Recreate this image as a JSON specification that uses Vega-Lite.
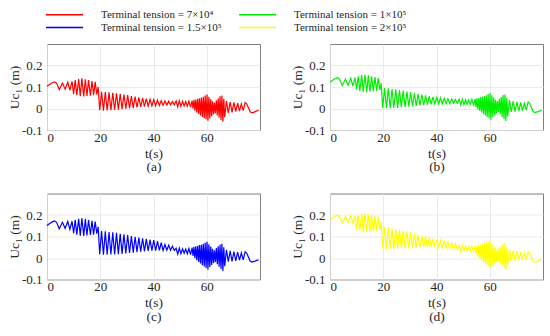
{
"$schema": "https://vega.github.io/schema/vega-lite/v6.json",
"padding": {"left": 6, "top": 9, "right": 5, "bottom": 2},
"datasets": {
"a": [{"t":0.0,"u":0.103},{"t":1.0,"u":0.112},{"t":2.0,"u":0.120},{"t":2.8,"u":0.124},{"t":3.6,"u":0.118},{"t":4.6,"u":0.088},{"t":5.8,"u":0.118},{"t":6.8,"u":0.090},{"t":7.8,"u":0.122},{"t":8.6,"u":0.085},{"t":9.4,"u":0.126},{"t":10.0,"u":0.068},{"t":10.6,"u":0.132},{"t":11.2,"u":0.062},{"t":11.9,"u":0.137},{"t":12.5,"u":0.057},{"t":13.1,"u":0.140},{"t":13.8,"u":0.056},{"t":14.4,"u":0.136},{"t":15.0,"u":0.058},{"t":15.6,"u":0.132},{"t":16.3,"u":0.060},{"t":16.9,"u":0.128},{"t":17.5,"u":0.062},{"t":18.1,"u":0.124},{"t":18.7,"u":0.066},{"t":19.2,"u":0.100},{"t":19.8,"u":-0.008},{"t":20.5,"u":0.078},{"t":21.2,"u":-0.010},{"t":21.9,"u":0.077},{"t":22.6,"u":-0.009},{"t":23.3,"u":0.075},{"t":24.0,"u":-0.008},{"t":24.7,"u":0.073},{"t":25.4,"u":-0.007},{"t":26.1,"u":0.071},{"t":26.8,"u":-0.005},{"t":27.5,"u":0.068},{"t":28.2,"u":-0.003},{"t":28.9,"u":0.065},{"t":29.6,"u":-0.001},{"t":30.3,"u":0.062},{"t":31.0,"u":0.001},{"t":31.7,"u":0.058},{"t":32.4,"u":0.003},{"t":33.1,"u":0.055},{"t":33.8,"u":0.005},{"t":34.5,"u":0.052},{"t":35.2,"u":0.007},{"t":35.9,"u":0.049},{"t":36.6,"u":0.009},{"t":37.3,"u":0.046},{"t":38.0,"u":0.011},{"t":38.7,"u":0.043},{"t":39.4,"u":0.012},{"t":40.1,"u":0.041},{"t":40.8,"u":0.013},{"t":41.5,"u":0.039},{"t":42.2,"u":0.014},{"t":42.9,"u":0.037},{"t":43.6,"u":0.015},{"t":44.3,"u":0.035},{"t":45.0,"u":0.016},{"t":45.7,"u":0.034},{"t":46.4,"u":0.017},{"t":47.1,"u":0.033},{"t":47.8,"u":0.017},{"t":48.5,"u":0.035},{"t":49.1,"u":0.008},{"t":49.7,"u":0.036},{"t":50.3,"u":0.010},{"t":50.9,"u":0.033},{"t":51.5,"u":0.012},{"t":52.1,"u":0.032},{"t":52.7,"u":0.010},{"t":53.3,"u":0.034},{"t":53.9,"u":0.006},{"t":54.5,"u":0.036},{"t":54.85,"u":0.000},{"t":55.2,"u":0.040},{"t":55.55,"u":-0.010},{"t":55.9,"u":0.042},{"t":56.25,"u":-0.018},{"t":56.6,"u":0.045},{"t":56.95,"u":-0.025},{"t":57.3,"u":0.048},{"t":57.65,"u":-0.032},{"t":58.0,"u":0.051},{"t":58.35,"u":-0.039},{"t":58.7,"u":0.055},{"t":59.05,"u":-0.045},{"t":59.4,"u":0.060},{"t":59.75,"u":-0.050},{"t":60.1,"u":0.065},{"t":60.45,"u":-0.057},{"t":60.8,"u":0.054},{"t":61.15,"u":-0.046},{"t":61.5,"u":0.044},{"t":61.85,"u":-0.036},{"t":62.2,"u":0.034},{"t":62.55,"u":-0.026},{"t":62.9,"u":0.028},{"t":63.25,"u":-0.022},{"t":63.6,"u":0.038},{"t":63.95,"u":-0.032},{"t":64.3,"u":0.047},{"t":64.65,"u":-0.043},{"t":65.0,"u":0.057},{"t":65.35,"u":-0.053},{"t":65.7,"u":0.060},{"t":66.05,"u":-0.062},{"t":66.4,"u":0.045},{"t":66.75,"u":-0.040},{"t":67.4,"u":0.035},{"t":68.1,"u":-0.020},{"t":68.8,"u":0.030},{"t":69.5,"u":-0.018},{"t":70.2,"u":0.028},{"t":70.9,"u":-0.015},{"t":71.6,"u":0.025},{"t":72.3,"u":-0.012},{"t":73.0,"u":0.022},{"t":73.7,"u":-0.010},{"t":74.4,"u":0.028},{"t":75.0,"u":0.022},{"t":75.6,"u":0.005},{"t":76.3,"u":-0.015},{"t":77.0,"u":-0.020},{"t":77.8,"u":-0.017},{"t":78.6,"u":-0.012},{"t":79.5,"u":-0.008}],
"b": [{"t":0.0,"u":0.122},{"t":1.0,"u":0.131},{"t":2.0,"u":0.139},{"t":2.8,"u":0.143},{"t":3.6,"u":0.137},{"t":4.6,"u":0.107},{"t":5.8,"u":0.137},{"t":6.8,"u":0.109},{"t":7.8,"u":0.141},{"t":8.6,"u":0.104},{"t":9.4,"u":0.144},{"t":10.0,"u":0.088},{"t":10.6,"u":0.150},{"t":11.2,"u":0.082},{"t":11.9,"u":0.155},{"t":12.5,"u":0.077},{"t":13.1,"u":0.158},{"t":13.8,"u":0.076},{"t":14.4,"u":0.154},{"t":15.0,"u":0.078},{"t":15.6,"u":0.150},{"t":16.3,"u":0.080},{"t":16.9,"u":0.146},{"t":17.5,"u":0.082},{"t":18.1,"u":0.142},{"t":18.7,"u":0.086},{"t":19.2,"u":0.118},{"t":19.8,"u":0.003},{"t":20.5,"u":0.095},{"t":21.2,"u":0.001},{"t":21.9,"u":0.094},{"t":22.6,"u":0.002},{"t":23.3,"u":0.091},{"t":24.0,"u":0.003},{"t":24.7,"u":0.089},{"t":25.4,"u":0.003},{"t":26.1,"u":0.086},{"t":26.8,"u":0.005},{"t":27.5,"u":0.083},{"t":28.2,"u":0.007},{"t":28.9,"u":0.079},{"t":29.6,"u":0.009},{"t":30.3,"u":0.076},{"t":31.0,"u":0.010},{"t":31.7,"u":0.072},{"t":32.4,"u":0.012},{"t":33.1,"u":0.068},{"t":33.8,"u":0.014},{"t":34.5,"u":0.065},{"t":35.2,"u":0.016},{"t":35.9,"u":0.061},{"t":36.6,"u":0.017},{"t":37.3,"u":0.058},{"t":38.0,"u":0.019},{"t":38.7,"u":0.054},{"t":39.4,"u":0.020},{"t":40.1,"u":0.052},{"t":40.8,"u":0.021},{"t":41.5,"u":0.050},{"t":42.2,"u":0.022},{"t":42.9,"u":0.047},{"t":43.6,"u":0.022},{"t":44.3,"u":0.045},{"t":45.0,"u":0.023},{"t":45.7,"u":0.044},{"t":46.4,"u":0.024},{"t":47.1,"u":0.042},{"t":47.8,"u":0.024},{"t":48.5,"u":0.043},{"t":49.1,"u":0.016},{"t":49.7,"u":0.044},{"t":50.3,"u":0.018},{"t":50.9,"u":0.041},{"t":51.5,"u":0.020},{"t":52.1,"u":0.040},{"t":52.7,"u":0.018},{"t":53.3,"u":0.042},{"t":53.9,"u":0.014},{"t":54.5,"u":0.044},{"t":54.85,"u":0.006},{"t":55.2,"u":0.048},{"t":55.55,"u":-0.004},{"t":55.9,"u":0.050},{"t":56.25,"u":-0.012},{"t":56.6,"u":0.053},{"t":56.95,"u":-0.019},{"t":57.3,"u":0.055},{"t":57.65,"u":-0.026},{"t":58.0,"u":0.058},{"t":58.35,"u":-0.033},{"t":58.7,"u":0.062},{"t":59.05,"u":-0.040},{"t":59.4,"u":0.067},{"t":59.75,"u":-0.045},{"t":60.1,"u":0.072},{"t":60.45,"u":-0.052},{"t":60.8,"u":0.061},{"t":61.15,"u":-0.041},{"t":61.5,"u":0.051},{"t":61.85,"u":-0.031},{"t":62.2,"u":0.041},{"t":62.55,"u":-0.021},{"t":62.9,"u":0.034},{"t":63.25,"u":-0.017},{"t":63.6,"u":0.044},{"t":63.95,"u":-0.027},{"t":64.3,"u":0.053},{"t":64.65,"u":-0.039},{"t":65.0,"u":0.063},{"t":65.35,"u":-0.049},{"t":65.7,"u":0.065},{"t":66.05,"u":-0.058},{"t":66.4,"u":0.050},{"t":66.75,"u":-0.036},{"t":67.4,"u":0.039},{"t":68.1,"u":-0.016},{"t":68.8,"u":0.034},{"t":69.5,"u":-0.015},{"t":70.2,"u":0.031},{"t":70.9,"u":-0.012},{"t":71.6,"u":0.028},{"t":72.3,"u":-0.010},{"t":73.0,"u":0.024},{"t":73.7,"u":-0.008},{"t":74.4,"u":0.030},{"t":75.0,"u":0.024},{"t":75.6,"u":0.006},{"t":76.3,"u":-0.014},{"t":77.0,"u":-0.019},{"t":77.8,"u":-0.016},{"t":78.6,"u":-0.012},{"t":79.5,"u":-0.008}],
"c": [{"t":0.0,"u":0.151},{"t":1.0,"u":0.160},{"t":2.0,"u":0.168},{"t":2.8,"u":0.172},{"t":3.6,"u":0.166},{"t":4.6,"u":0.136},{"t":5.8,"u":0.166},{"t":6.8,"u":0.138},{"t":7.8,"u":0.170},{"t":8.6,"u":0.133},{"t":9.4,"u":0.171},{"t":10.0,"u":0.115},{"t":10.6,"u":0.177},{"t":11.2,"u":0.109},{"t":11.9,"u":0.182},{"t":12.5,"u":0.104},{"t":13.1,"u":0.185},{"t":13.8,"u":0.103},{"t":14.4,"u":0.181},{"t":15.0,"u":0.105},{"t":15.6,"u":0.177},{"t":16.3,"u":0.107},{"t":16.9,"u":0.173},{"t":17.5,"u":0.109},{"t":18.1,"u":0.169},{"t":18.7,"u":0.113},{"t":19.2,"u":0.145},{"t":19.8,"u":0.018},{"t":20.5,"u":0.125},{"t":21.2,"u":0.015},{"t":21.9,"u":0.124},{"t":22.6,"u":0.015},{"t":23.3,"u":0.121},{"t":24.0,"u":0.016},{"t":24.7,"u":0.119},{"t":25.4,"u":0.016},{"t":26.1,"u":0.117},{"t":26.8,"u":0.018},{"t":27.5,"u":0.113},{"t":28.2,"u":0.019},{"t":28.9,"u":0.110},{"t":29.6,"u":0.021},{"t":30.3,"u":0.107},{"t":31.0,"u":0.023},{"t":31.7,"u":0.102},{"t":32.4,"u":0.025},{"t":33.1,"u":0.099},{"t":33.8,"u":0.027},{"t":34.5,"u":0.095},{"t":35.2,"u":0.029},{"t":35.9,"u":0.092},{"t":36.6,"u":0.031},{"t":37.3,"u":0.089},{"t":38.0,"u":0.033},{"t":38.7,"u":0.085},{"t":39.4,"u":0.034},{"t":40.1,"u":0.083},{"t":40.8,"u":0.034},{"t":41.5,"u":0.079},{"t":42.2,"u":0.035},{"t":42.9,"u":0.071},{"t":43.6,"u":0.035},{"t":44.3,"u":0.063},{"t":45.0,"u":0.036},{"t":45.7,"u":0.059},{"t":46.4,"u":0.036},{"t":47.1,"u":0.055},{"t":47.8,"u":0.035},{"t":48.5,"u":0.045},{"t":49.1,"u":0.018},{"t":49.7,"u":0.046},{"t":50.3,"u":0.020},{"t":50.9,"u":0.043},{"t":51.5,"u":0.022},{"t":52.1,"u":0.042},{"t":52.7,"u":0.020},{"t":53.3,"u":0.044},{"t":53.9,"u":0.016},{"t":54.5,"u":0.048},{"t":54.85,"u":0.010},{"t":55.2,"u":0.052},{"t":55.55,"u":-0.001},{"t":55.9,"u":0.054},{"t":56.25,"u":-0.010},{"t":56.6,"u":0.057},{"t":56.95,"u":-0.018},{"t":57.3,"u":0.060},{"t":57.65,"u":-0.026},{"t":58.0,"u":0.062},{"t":58.35,"u":-0.034},{"t":58.7,"u":0.066},{"t":59.05,"u":-0.040},{"t":59.4,"u":0.071},{"t":59.75,"u":-0.046},{"t":60.1,"u":0.076},{"t":60.45,"u":-0.053},{"t":60.8,"u":0.064},{"t":61.15,"u":-0.042},{"t":61.5,"u":0.053},{"t":61.85,"u":-0.032},{"t":62.2,"u":0.043},{"t":62.55,"u":-0.023},{"t":62.9,"u":0.036},{"t":63.25,"u":-0.019},{"t":63.6,"u":0.046},{"t":63.95,"u":-0.029},{"t":64.3,"u":0.054},{"t":64.65,"u":-0.040},{"t":65.0,"u":0.063},{"t":65.35,"u":-0.051},{"t":65.7,"u":0.066},{"t":66.05,"u":-0.060},{"t":66.4,"u":0.050},{"t":66.75,"u":-0.038},{"t":67.4,"u":0.038},{"t":68.1,"u":-0.017},{"t":68.8,"u":0.033},{"t":69.5,"u":-0.016},{"t":70.2,"u":0.030},{"t":70.9,"u":-0.013},{"t":71.6,"u":0.027},{"t":72.3,"u":-0.010},{"t":73.0,"u":0.024},{"t":73.7,"u":-0.009},{"t":74.4,"u":0.029},{"t":75.0,"u":0.023},{"t":75.6,"u":0.006},{"t":76.3,"u":-0.014},{"t":77.0,"u":-0.019},{"t":77.8,"u":-0.016},{"t":78.6,"u":-0.012},{"t":79.5,"u":-0.008}],
"d": [{"t":0.0,"u":0.178},{"t":1.0,"u":0.187},{"t":2.0,"u":0.195},{"t":2.8,"u":0.199},{"t":3.6,"u":0.193},{"t":4.6,"u":0.163},{"t":5.8,"u":0.193},{"t":6.8,"u":0.165},{"t":7.8,"u":0.197},{"t":8.6,"u":0.160},{"t":9.4,"u":0.194},{"t":10.0,"u":0.132},{"t":10.6,"u":0.200},{"t":11.2,"u":0.126},{"t":11.9,"u":0.205},{"t":12.5,"u":0.121},{"t":13.1,"u":0.208},{"t":13.8,"u":0.120},{"t":14.4,"u":0.204},{"t":15.0,"u":0.122},{"t":15.6,"u":0.200},{"t":16.3,"u":0.124},{"t":16.9,"u":0.196},{"t":17.5,"u":0.126},{"t":18.1,"u":0.192},{"t":18.7,"u":0.130},{"t":19.2,"u":0.168},{"t":19.8,"u":0.044},{"t":20.5,"u":0.144},{"t":21.2,"u":0.042},{"t":21.9,"u":0.142},{"t":22.6,"u":0.042},{"t":23.3,"u":0.138},{"t":24.0,"u":0.042},{"t":24.7,"u":0.135},{"t":25.4,"u":0.042},{"t":26.1,"u":0.132},{"t":26.8,"u":0.043},{"t":27.5,"u":0.128},{"t":28.2,"u":0.044},{"t":28.9,"u":0.124},{"t":29.6,"u":0.045},{"t":30.3,"u":0.120},{"t":31.0,"u":0.046},{"t":31.7,"u":0.114},{"t":32.4,"u":0.047},{"t":33.1,"u":0.109},{"t":33.8,"u":0.048},{"t":34.5,"u":0.104},{"t":35.2,"u":0.050},{"t":35.9,"u":0.099},{"t":36.6,"u":0.051},{"t":37.3,"u":0.095},{"t":38.0,"u":0.052},{"t":38.7,"u":0.090},{"t":39.4,"u":0.052},{"t":40.1,"u":0.087},{"t":40.8,"u":0.051},{"t":41.5,"u":0.082},{"t":42.2,"u":0.049},{"t":42.9,"u":0.077},{"t":43.6,"u":0.047},{"t":44.3,"u":0.073},{"t":45.0,"u":0.045},{"t":45.7,"u":0.069},{"t":46.4,"u":0.043},{"t":47.1,"u":0.066},{"t":47.8,"u":0.041},{"t":48.5,"u":0.057},{"t":49.1,"u":0.030},{"t":49.7,"u":0.058},{"t":50.3,"u":0.032},{"t":50.9,"u":0.055},{"t":51.5,"u":0.034},{"t":52.1,"u":0.054},{"t":52.7,"u":0.032},{"t":53.3,"u":0.056},{"t":53.9,"u":0.028},{"t":54.5,"u":0.056},{"t":54.85,"u":0.017},{"t":55.2,"u":0.059},{"t":55.55,"u":0.006},{"t":55.9,"u":0.061},{"t":56.25,"u":-0.003},{"t":56.6,"u":0.063},{"t":56.95,"u":-0.011},{"t":57.3,"u":0.066},{"t":57.65,"u":-0.019},{"t":58.0,"u":0.068},{"t":58.35,"u":-0.027},{"t":58.7,"u":0.072},{"t":59.05,"u":-0.034},{"t":59.4,"u":0.076},{"t":59.75,"u":-0.040},{"t":60.1,"u":0.081},{"t":60.45,"u":-0.048},{"t":60.8,"u":0.069},{"t":61.15,"u":-0.037},{"t":61.5,"u":0.058},{"t":61.85,"u":-0.028},{"t":62.2,"u":0.047},{"t":62.55,"u":-0.018},{"t":62.9,"u":0.040},{"t":63.25,"u":-0.014},{"t":63.6,"u":0.049},{"t":63.95,"u":-0.025},{"t":64.3,"u":0.057},{"t":64.65,"u":-0.036},{"t":65.0,"u":0.066},{"t":65.35,"u":-0.047},{"t":65.7,"u":0.068},{"t":66.05,"u":-0.056},{"t":66.4,"u":0.052},{"t":66.75,"u":-0.034},{"t":67.4,"u":0.040},{"t":68.1,"u":-0.015},{"t":68.8,"u":0.035},{"t":69.5,"u":-0.014},{"t":70.2,"u":0.032},{"t":70.9,"u":-0.011},{"t":71.6,"u":0.028},{"t":72.3,"u":-0.009},{"t":73.0,"u":0.024},{"t":73.7,"u":-0.008},{"t":74.4,"u":0.029},{"t":75.0,"u":0.023},{"t":75.6,"u":0.006},{"t":76.3,"u":-0.014},{"t":77.0,"u":-0.019},{"t":77.8,"u":-0.016},{"t":78.6,"u":-0.011},{"t":79.5,"u":-0.004}]
},
"config": {
  "font": "Liberation Serif",
  "view": {"stroke": "#7f7f7f", "strokeWidth": 1},
  "axis": {"labelFont": "Liberation Serif", "labelFontSize": 13, "labelColor": "#262626", "titleFont": "Liberation Serif", "titleFontSize": 13.5, "titleFontWeight": "normal", "titleColor": "#262626", "gridColor": "#e6e6e6", "gridWidth": 0.8, "domain": false, "ticks": false, "titleLineHeight": 13.5},
  "axisX": {"labelPadding": 1, "titlePadding": 2},
  "axisY": {"labelPadding": 5, "titlePadding": 0, "labelExpr": "datum.value == 0 ? '0' : replace(datum.label, '−', '-')"},
  "legend": {"labelFont": "Liberation Serif", "labelFontSize": 11, "labelColor": "#262626", "labelLimit": 0, "padding": 0}
},
"resolve": {"scale": {"color": "shared"}, "legend": {"color": "shared"}},
"spacing": 18.5,
"vconcat": [
 {"spacing": 27, "resolve": {"scale": {"color": "shared"}, "legend": {"color": "shared"}}, "hconcat": [
  {"width": 213, "height": 86, "data": {"name": "a"}, "mark": {"type": "line", "strokeWidth": 1.2},
   "encoding": {
    "x": {"field": "t", "type": "quantitative", "scale": {"domain": [0, 80], "nice": false}, "axis": {"values": [0, 20, 40, 60], "title": ["t(s)", "(a)"]}},
    "y": {"field": "u", "type": "quantitative", "scale": {"domain": [-0.1, 0.3], "nice": false}, "axis": {"values": [-0.1, 0, 0.1, 0.2], "title": "Uc₁ (m)"}},
    "color": {"datum": "Terminal tension = 7×10⁴", "type": "nominal", "scale": {"domain": ["Terminal tension = 7×10⁴", "Terminal tension = 1×10⁵", "Terminal tension = 1.5×10⁵", "Terminal tension = 2×10⁵"], "range": ["#ff0000", "#00ee00", "#0000ff", "#ffff00"]},
      "legend": {"title": null, "orient": "none", "legendX": 12, "legendY": -35, "columns": 2, "direction": "horizontal", "symbolType": "M-5,0H5", "symbolSize": 55, "symbolStrokeWidth": 1.5, "labelOffset": 31, "columnPadding": 13, "rowPadding": 1}}
   }},
  {"width": 213, "height": 86, "data": {"name": "b"}, "mark": {"type": "line", "strokeWidth": 1.2},
   "encoding": {
    "x": {"field": "t", "type": "quantitative", "scale": {"domain": [0, 80], "nice": false}, "axis": {"values": [0, 20, 40, 60], "title": ["t(s)", "(b)"]}},
    "y": {"field": "u", "type": "quantitative", "scale": {"domain": [-0.1, 0.3], "nice": false}, "axis": {"values": [-0.1, 0, 0.1, 0.2], "title": "Uc₁ (m)"}},
    "color": {"datum": "Terminal tension = 1×10⁵", "type": "nominal", "scale": {"domain": ["Terminal tension = 7×10⁴", "Terminal tension = 1×10⁵", "Terminal tension = 1.5×10⁵", "Terminal tension = 2×10⁵"], "range": ["#ff0000", "#00ee00", "#0000ff", "#ffff00"]}}
   }}
 ]},
 {"spacing": 27, "resolve": {"scale": {"color": "shared"}, "legend": {"color": "shared"}}, "hconcat": [
  {"width": 213, "height": 86, "data": {"name": "c"}, "mark": {"type": "line", "strokeWidth": 1.2},
   "encoding": {
    "x": {"field": "t", "type": "quantitative", "scale": {"domain": [0, 80], "nice": false}, "axis": {"values": [0, 20, 40, 60], "title": ["t(s)", "(c)"]}},
    "y": {"field": "u", "type": "quantitative", "scale": {"domain": [-0.1, 0.3], "nice": false}, "axis": {"values": [-0.1, 0, 0.1, 0.2], "title": "Uc₁ (m)"}},
    "color": {"datum": "Terminal tension = 1.5×10⁵", "type": "nominal", "scale": {"domain": ["Terminal tension = 7×10⁴", "Terminal tension = 1×10⁵", "Terminal tension = 1.5×10⁵", "Terminal tension = 2×10⁵"], "range": ["#ff0000", "#00ee00", "#0000ff", "#ffff00"]}}
   }},
  {"width": 213, "height": 86, "data": {"name": "d"}, "mark": {"type": "line", "strokeWidth": 1.2},
   "encoding": {
    "x": {"field": "t", "type": "quantitative", "scale": {"domain": [0, 80], "nice": false}, "axis": {"values": [0, 20, 40, 60], "title": ["t(s)", "(d)"]}},
    "y": {"field": "u", "type": "quantitative", "scale": {"domain": [-0.1, 0.3], "nice": false}, "axis": {"values": [-0.1, 0, 0.1, 0.2], "title": "Uc₁ (m)"}},
    "color": {"datum": "Terminal tension = 2×10⁵", "type": "nominal", "scale": {"domain": ["Terminal tension = 7×10⁴", "Terminal tension = 1×10⁵", "Terminal tension = 1.5×10⁵", "Terminal tension = 2×10⁵"], "range": ["#ff0000", "#00ee00", "#0000ff", "#ffff00"]}}
   }}
 ]}
]
}
